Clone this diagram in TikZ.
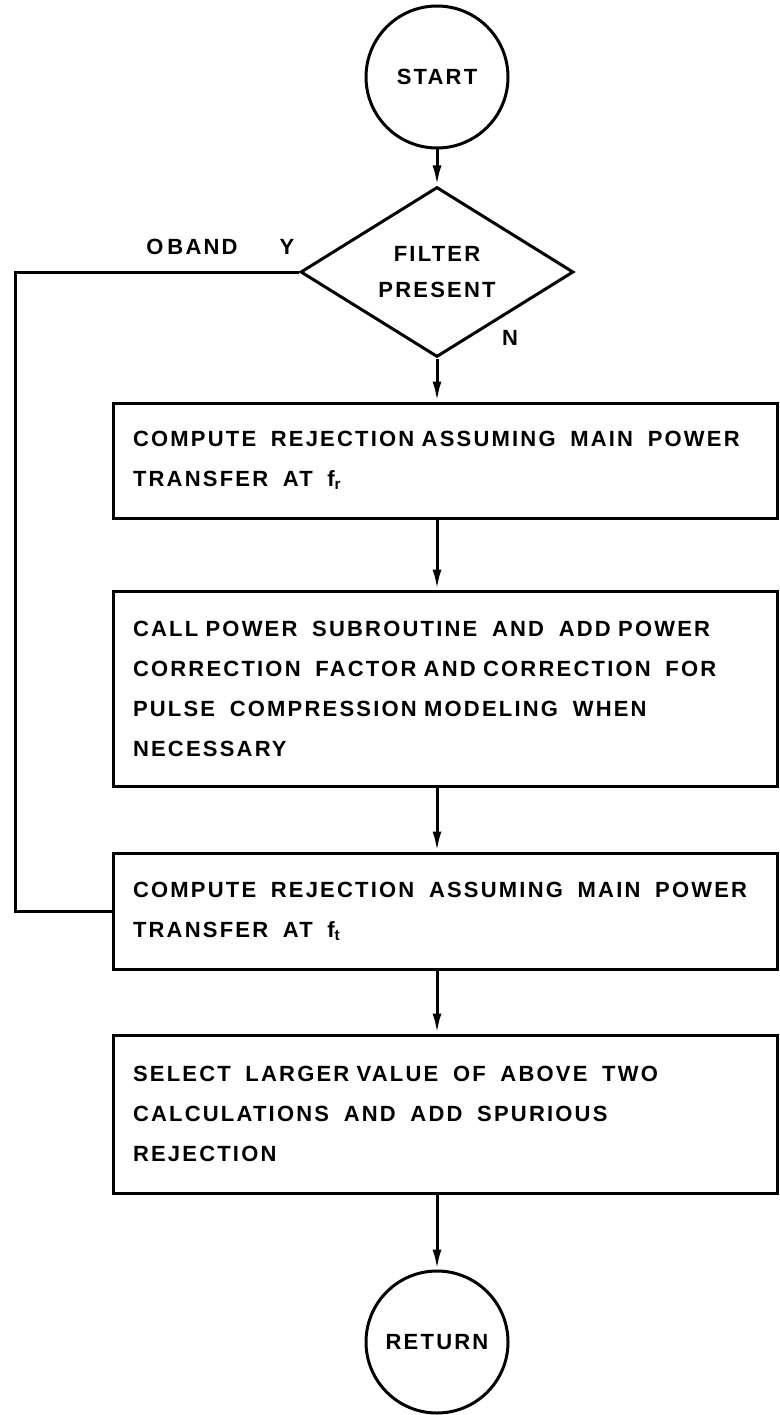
\documentclass[tikz,border=0pt]{standalone}
\usepackage{fontspec}
\setmainfont{Liberation Sans}[LetterSpace=10]
\usetikzlibrary{arrows.meta, shapes.geometric}

\begin{document}
\begin{tikzpicture}[
  x=1pt, y=-1pt,
  every node/.style={font=\bfseries\fontsize{22}{40}\selectfont, inner sep=0pt},
  term/.style={circle, draw, line width=3pt, minimum size=142pt},
  test/.style={diamond, draw, line width=3pt, minimum width=273pt, minimum height=170pt,
    align=center, font=\bfseries\fontsize{22}{36}\selectfont},
  proc/.style={rectangle, draw, line width=3pt, text width=624pt, inner xsep=20pt, align=left},
  flow/.style={-{Latex[length=20pt, width=9pt]}, line width=3pt},
  >=Stealth
]
  \useasboundingbox (0,0) rectangle (779,1415);

  \node[term] (start) at (437,77) {START};
  \node[test] (filter) at (437,272) {FILTER\\PRESENT};
  \node[proc, minimum height=115pt] (rejr) at (445,460.5)
    {COMPUTE \ REJECTION ASSUMING \ MAIN \ POWER\\TRANSFER \ AT \ f\textsubscript{r}};
  \node[proc, minimum height=195pt] (power) at (445,688.5)
    {CALL POWER \ SUBROUTINE \ AND \ ADD POWER\\CORRECTION \ FACTOR AND CORRECTION \ FOR\\PULSE \ COMPRESSION MODELING \ WHEN\\NECESSARY};
  \node[proc, minimum height=116pt] (rejt) at (445,911)
    {COMPUTE \ REJECTION \ ASSUMING \ MAIN \ POWER\\TRANSFER \ AT \ f\textsubscript{t}};
  \node[proc, minimum height=158pt] (select) at (445,1114)
    {SELECT \ LARGER VALUE \ OF \ ABOVE \ TWO\\CALCULATIONS \ AND \ ADD \ SPURIOUS\\REJECTION};
  \node[term] (return) at (437,1342) {RETURN};

  % branch labels
  \node (oband) at (192,247) {O\kern4pt BAND};
  \node (yes) at (287,247) {Y};
  \node (no) at (510,338) {N};

  % main flow
  \draw[flow] (start) -- (filter);
  \draw[flow] (filter) -- (filter |- rejr.north);
  \draw[flow] (rejr.south -| filter) -- (filter |- power.north);
  \draw[flow] (power.south -| filter) -- (filter |- rejt.north);
  \draw[flow] (rejt.south -| filter) -- (filter |- select.north);
  \draw[flow] (select.south -| filter) -- (return);
  % bypass when filter present
  \coordinate (bypass) at (15,272);
  \draw[line width=3pt] (filter.west) -- (bypass) |- (rejt.west);
\end{tikzpicture}
\end{document}
